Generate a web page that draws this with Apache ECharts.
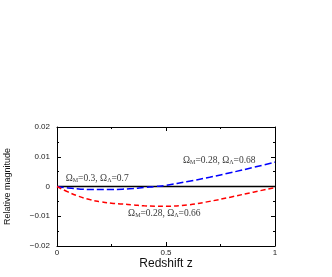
<!DOCTYPE html>
<html><head><meta charset="utf-8">
<script src="https://cdn.jsdelivr.net/npm/echarts@6/dist/echarts.min.js"></script>
<style>html,body{margin:0;padding:0;background:#fff}#c{width:332px;height:277px}</style>
</head><body><div id="c"></div>
<script>
const zs = [0,0.05,0.1,0.15,0.2,0.25,0.3,0.35,0.4,0.45,0.5,0.6,0.7,0.8,0.9,1];
const blueVals = [0,-0.0005,-0.0008,-0.001,-0.001,-0.001,-0.0009,-0.0007,-0.0003,0.0000,0.0004,0.0017,0.0031,0.0047,0.0064,0.0082];
const redVals = [0,-0.0018,-0.0033,-0.0044,-0.0051,-0.0056,-0.0059,-0.0062,-0.0065,-0.0066,-0.0066,-0.0062,-0.0050,-0.0035,-0.0019,-0.0004];
const refZ = [0,1];
const refVals = [0,0];
const yTicks = ['0.02','0.01','0','-0.01','-0.02'];
const xTicks = ['0','0.5','1'];
const labelX = [0.04, 0.578, 0.326];
const labelY = [0.0026, 0.0087, -0.0092];
const labelTexts = [
  '{t|Ω}{s|M}{t|=0.3, Ω}{s|Λ}{t|=0.7}',
  '{t|Ω}{s|M}{t|=0.28, Ω}{s|Λ}{t|=0.68}',
  '{t|Ω}{s|M}{t|=0.28, Ω}{s|Λ}{t|=0.66}'
];
const xAxisName = 'Redshift z';
const yAxisName = 'Relative magnitude';

const pair = (xs, ys) => xs.map((x,i)=>[x, ys[i]]);
const fmtY = v => { const s = (Math.round(v*100)/100).toString(); return yTicks.includes(s) ? s.replace('-', '−') : ''; };
const fmtX = v => { const s = (Math.round(v*100)/100).toString(); return xTicks.includes(s) ? s : ''; };

const axisLine = {show:true, onZero:false, lineStyle:{color:'#000', width:1}};
const tick = {show:true, inside:true, length:4, lineStyle:{color:'#000', width:1}};
const minor = {show:true, splitNumber:2, length:2, lineStyle:{color:'#000', width:1}};

const chart = echarts.init(document.getElementById('c'), null, {renderer:'canvas'});
chart.setOption({
  animation:false,
  backgroundColor:'#fff',
  grid:{left:57, right:57, top:127, bottom:31, containLabel:false, outerBoundsMode:'none'},
  xAxis:[
    {type:'value', min:0, max:1, interval:0.5, position:'bottom',
     axisLine, axisTick:tick, minorTick:minor, splitLine:{show:false},
     axisLabel:{formatter:fmtX, fontSize:8, color:'#222', fontFamily:'Liberation Sans', margin:3},
     name:xAxisName, nameLocation:'middle', nameGap:7,
     nameTextStyle:{fontSize:12, color:'#111', fontFamily:'Liberation Sans', verticalAlign:'top'}},
    {type:'value', min:0, max:1, interval:0.5, position:'top',
     axisLine, axisTick:tick, minorTick:minor, splitLine:{show:false}, axisLabel:{show:false}}
  ],
  yAxis:[
    {type:'value', min:-0.02, max:0.02, interval:0.01, position:'left',
     axisLine, axisTick:tick, minorTick:minor, splitLine:{show:false},
     axisLabel:{formatter:fmtY, fontSize:8, color:'#222', fontFamily:'Liberation Sans', margin:7},
     name:yAxisName, nameLocation:'middle', nameGap:45, nameRotate:90,
     nameTextStyle:{fontSize:9, color:'#111', fontFamily:'Liberation Sans'}},
    {type:'value', min:-0.02, max:0.02, interval:0.01, position:'right',
     axisLine, axisTick:tick, minorTick:minor, splitLine:{show:false}, axisLabel:{show:false}}
  ],
  series:[
    {type:'line', data:pair(refZ, refVals), symbol:'none', lineStyle:{color:'#000', width:1.5}, z:1},
    {type:'line', data:pair(zs, blueVals), smooth:true, symbol:'none', lineStyle:{color:'#0000ff', width:1.5, type:[7,3]}, z:2},
    {type:'line', data:pair(zs, redVals), smooth:true, symbol:'none', lineStyle:{color:'#ff0000', width:1.5, type:[5,3]}, z:2},
    {type:'scatter', symbolSize:0.1, silent:true,
     data:labelX.map((x,i)=>({value:[x, labelY[i]], label:{formatter:labelTexts[i]}})),
     label:{show:true, position:'inside', align:'left', verticalAlign:'middle',
       rich:{
         t:{fontSize:9.5, fontFamily:'Liberation Serif', color:'#000', lineHeight:11},
         s:{fontSize:6, fontFamily:'Liberation Serif', color:'#000', lineHeight:11, padding:[4,0,0,0]}
       }}}
  ]
});
</script></body></html>
